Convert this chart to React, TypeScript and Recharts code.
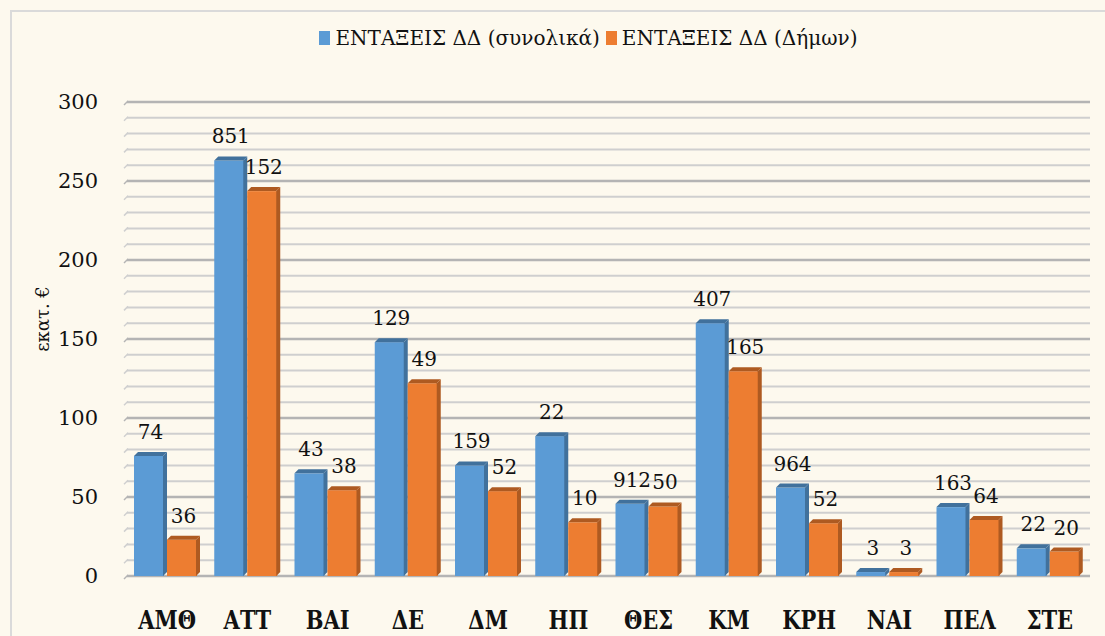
import React from "react";
import { Bar, BarChart, CartesianGrid, LabelList, XAxis, YAxis } from "recharts";

const categories = ["ΑΜΘ", "ΑΤΤ", "ΒΑΙ", "ΔΕ", "ΔΜ", "ΗΠ", "ΘΕΣ", "ΚΜ", "ΚΡΗ", "ΝΑΙ", "ΠΕΛ", "ΣΤΕ"];
const totalValues = [76, 263, 65, 148, 70, 88.5, 45.7, 160, 56, 2.5, 43.6, 17.5];
const municipalValues = [23, 243.6, 54.3, 122, 53.7, 34, 44, 129.6, 33.4, 2.5, 35.5, 15.5];
const totalLabels = ["74", "851", "43", "129", "159", "22", "912", "407", "964", "3", "163", "22"];
const municipalLabels = ["36", "152", "38", "49", "52", "10", "50", "165", "52", "3", "64", "20"];
const yTicks = [0, 10, 20, 30, 40, 50, 60, 70, 80, 90, 100, 110, 120, 130, 140, 150, 160, 170, 180, 190, 200, 210, 220, 230, 240, 250, 260, 270, 280, 290, 300];

const SERIES_TOTAL = "ΕΝΤΑΞΕΙΣ ΔΔ (συνολικά)";
const SERIES_MUNI = "ΕΝΤΑΞΕΙΣ ΔΔ (Δήμων)";

const data = categories.map((c, i) => ({
  name: c,
  total: totalValues[i],
  muni: municipalValues[i],
  totalLabel: totalLabels[i],
  muniLabel: municipalLabels[i],
}));

const FONT = "'DejaVu Serif', serif";
const D = 4;

function bar3d(front: string, dark: string) {
  return (props: any) => {
    const { x, y, width, height } = props;
    if (width == null || height == null) return null;
    const w = width;
    const b = y + height;
    return (
      <g>
        <rect x={x} y={y} width={w - D + 1} height={height} fill={front} />
        <polygon points={`${x},${y} ${x + D},${y - D} ${x + w},${y - D} ${x + w - D},${y}`} fill={dark} />
        <polygon points={`${x + w - D},${y} ${x + w},${y - D} ${x + w},${b - D} ${x + w - D},${b}`} fill={dark} />
      </g>
    );
  };
}

const gridLine = (props: any) => {
  const { x1, x2, y1, index } = props;
  const major = Math.round((576 - y1) / 15.8) % 5 === 0;
  const col = major ? "#B4B4B4" : "#CFCFCF";
  return (
    <g key={`g-${index}-${y1}`}>
      <line x1={x1} y1={y1} x2={x2} y2={y1} stroke={col} strokeWidth={major ? 2.5 : 2} />
      <line x1={x1 + 1} y1={y1 - 1} x2={x1 - 3} y2={y1 + 3} stroke={col} strokeWidth={1.5} />
    </g>
  );
};

const YTick = (props: any) => {
  const { x, y, payload } = props;
  if (payload.value % 50 !== 0) return null;
  return (
    <text x={x - 21} y={y} dy={7} textAnchor="end" fontFamily={FONT} fontSize={21} fill="#111">
      {payload.value}
    </text>
  );
};

const XTick = (props: any) => {
  const { x, y, payload } = props;
  return (
    <text
      transform={`translate(${x},${y + 45}) scale(1,1.25)`}
      textAnchor="middle"
      fontFamily={FONT}
      fontWeight="bold"
      fontSize={21}
      fill="#111"
    >
      {payload.value}
    </text>
  );
};

const valueLabel = (props: any) => {
  const { x, y, width, value } = props;
  return (
    <text x={x + width / 2} y={y - 17} textAnchor="middle" fontFamily={FONT} fontSize={20} fill="#111">
      {value}
    </text>
  );
};

const LegendBox = () => (
  <div
    style={{
      position: "absolute",
      left: 36,
      top: 26,
      width: 1105,
      display: "flex",
      justifyContent: "center",
      alignItems: "center",
      fontFamily: FONT,
      fontSize: 20,
      color: "#111",
      zIndex: 2,
    }}
  >
    <span style={{ width: 11, height: 14, background: "#5B9BD5", display: "inline-block", marginRight: 5 }} />
    <span style={{ marginRight: 6 }}>{SERIES_TOTAL}</span>
    <span style={{ width: 11, height: 14, background: "#ED7D31", display: "inline-block", marginRight: 5 }} />
    <span>{SERIES_MUNI}</span>
  </div>
);

export default function App() {
  return (
    <div style={{ position: "fixed", left: 0, top: 0, width: 1105, height: 636, background: "#FDF9EE", overflow: "hidden" }}>
      <div style={{ position: "absolute", left: 10, top: 10, width: 1200, height: 800, borderLeft: "2px solid #DADADA", borderTop: "2px solid #DADADA" }} />
      <LegendBox />
      <BarChart
        width={1105}
        height={636}
        data={data}
        margin={{ top: 102, right: 15, bottom: 0, left: 0 }}
        barGap={0}
        barCategoryGap={7}
        style={{ position: "absolute", left: 0, top: 0 }}
      >
        <CartesianGrid vertical={false} horizontal={gridLine} />
        <XAxis dataKey="name" height={60} axisLine={false} tickLine={false} tick={<XTick />} interval={0} />
        <YAxis
          width={127}
          domain={[0, 300]}
          ticks={yTicks}
          interval={0}
          axisLine={false}
          tickLine={false}
          tick={<YTick />}
          label={{
            content: (p: any) => {
              const vb = p.viewBox || {};
              const cx = 42;
              const cy = (vb.y ?? 102) + (vb.height ?? 474) / 2 - 20;
              return (
                <text x={cx} y={cy} transform={`rotate(-90,${cx},${cy})`} textAnchor="middle" dominantBaseline="central" fontFamily={FONT} fontSize={18} fill="#111">
                  εκατ. €
                </text>
              );
            },
          }}
        />
        <Bar dataKey="total" name={SERIES_TOTAL} fill="#5B9BD5" shape={bar3d("#5B9BD5", "#41719C")} isAnimationActive={false}>
          <LabelList dataKey="totalLabel" content={valueLabel} />
        </Bar>
        <Bar dataKey="muni" name={SERIES_MUNI} fill="#ED7D31" shape={bar3d("#ED7D31", "#AE5A21")} isAnimationActive={false}>
          <LabelList dataKey="muniLabel" content={valueLabel} />
        </Bar>
      </BarChart>
    </div>
  );
}
